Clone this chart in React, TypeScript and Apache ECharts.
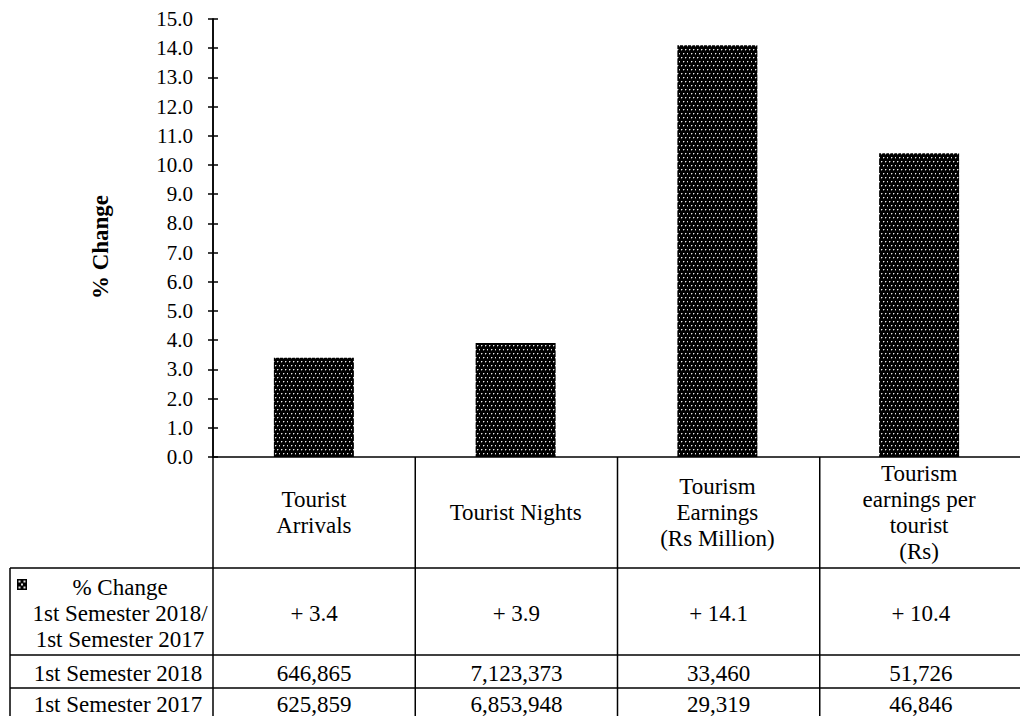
import React, { useEffect, useRef } from "react";
import * as echarts from "echarts";

const categories = [
  "Tourist\nArrivals",
  "Tourist Nights",
  "Tourism\nEarnings\n(Rs Million)",
  "Tourism\nearnings per\ntourist\n(Rs)",
];
const pctChange = [3.4, 3.9, 14.1, 10.4];
const pctLabels = ["+ 3.4", "+ 3.9", "+ 14.1", "+ 10.4"];
const sem2018 = ["646,865", "7,123,373", "33,460", "51,726"];
const sem2017 = ["625,859", "6,853,948", "29,319", "46,846"];
const rowHeaders = ["% Change\n1st Semester 2018/\n1st Semester 2017", "1st Semester 2018", "1st Semester 2017"];
const yAxisName = "% Change";

const FONT = "Liberation Serif";

function makePattern(): HTMLCanvasElement {
  const c = document.createElement("canvas");
  c.width = 8;
  c.height = 8;
  const ctx = c.getContext("2d")!;
  ctx.fillStyle = "#000";
  ctx.fillRect(0, 0, 8, 8);
  const dots = [
    [1, 1],
    [5, 1],
    [3, 5],
    [7, 5],
  ];
  for (const [x, y] of dots) {
    ctx.fillStyle = "#5a5a5a";
    ctx.fillRect(x + 1, y, 1, 1);
    ctx.fillRect(x, y + 1, 1, 1);
    ctx.fillStyle = "#e8e8e8";
    ctx.fillRect(x, y, 1, 1);
  }
  return c;
}

export default function App() {
  const ref = useRef<HTMLDivElement>(null);
  useEffect(() => {
    if (!ref.current) return;
    const chart = echarts.init(ref.current, undefined, { renderer: "svg" });
    const pattern = makePattern();
    const patternFill: any = { image: pattern, repeat: "repeat" };

    const gridLeft = 213;
    const gridTop = 19;
    const gridHeight = 438;
    const gridWidth = 809;
    const band = gridWidth / categories.length;
    const axisY = gridTop + gridHeight;
    const tableLeft = 10;
    const tableRight = 1022;
    const rowLines = [568, 655, 688];
    const bottom = 720;
    const lineStyle = { stroke: "#000", lineWidth: 1.5 };

    const graphics: any[] = [];
    for (let i = 0; i <= categories.length; i++) {
      const x = gridLeft + band * i;
      graphics.push({
        type: "line",
        shape: { x1: x, y1: axisY, x2: x, y2: bottom },
        style: lineStyle,
        silent: true,
      });
    }
    graphics.push({
      type: "line",
      shape: { x1: tableLeft, y1: rowLines[0], x2: tableLeft, y2: bottom },
      style: lineStyle,
      silent: true,
    });
    for (const y of rowLines) {
      graphics.push({
        type: "line",
        shape: { x1: tableLeft, y1: y, x2: tableRight, y2: y },
        style: lineStyle,
        silent: true,
      });
    }
    const rowCenters = [613, 673, 704];
    const textBase = {
      fill: "#000",
      fontFamily: FONT,
      fontSize: 23,
      lineHeight: 26,
      align: "center",
      verticalAlign: "middle",
    };
    rowHeaders.forEach((t, r) => {
      graphics.push({
        type: "text",
        x: r === 0 ? 120 : 118,
        y: rowCenters[r],
        style: { ...textBase, text: t },
        silent: true,
      });
    });
    const rows = [pctLabels, sem2018, sem2017];
    rows.forEach((row, r) => {
      row.forEach((t, i) => {
        graphics.push({
          type: "text",
          x: gridLeft + band * (i + 0.5),
          y: rowCenters[r],
          style: { ...textBase, text: t },
          silent: true,
        });
      });
    });
    // legend marker
    const mx = 17;
    const my = 579;
    graphics.push({
      type: "rect",
      shape: { x: mx, y: my, width: 10, height: 11 },
      style: { fill: "#000" },
      silent: true,
    });
    const markerDots = [
      [1.5, 1.5],
      [6.5, 1.5],
      [4, 4.5],
      [1.5, 7.5],
      [6.5, 7.5],
    ];
    for (const [dx, dy] of markerDots) {
      graphics.push({
        type: "rect",
        shape: { x: mx + dx, y: my + dy, width: 2, height: 2 },
        style: { fill: "#e0e0e0" },
        silent: true,
      });
    }
    graphics.push({
      type: "text",
      x: 100,
      y: 247,
      rotation: Math.PI / 2,
      style: {
        text: yAxisName,
        fill: "#000",
        fontFamily: FONT,
        fontSize: 23,
        fontWeight: "bold",
        align: "center",
        verticalAlign: "middle",
      },
      silent: true,
    });

    chart.setOption({
      animation: false,
      textStyle: { fontFamily: FONT, color: "#000" },
      grid: { left: gridLeft, top: gridTop, width: gridWidth, height: gridHeight, containLabel: false },
      xAxis: {
        type: "category",
        data: categories,
        axisLine: { show: true, lineStyle: { color: "#000", width: 1.5 } },
        axisTick: { show: false },
        axisLabel: {
          interval: 0,
          margin: 55,
          verticalAlign: "middle",
          align: "center",
          fontFamily: FONT,
          fontSize: 23,
          lineHeight: 26,
          color: "#000",
        },
      },
      yAxis: [
        {
          type: "value",
          min: 0,
          max: 15,
          interval: 1,
          axisLine: { show: true, lineStyle: { color: "#000", width: 1.5 } },
          axisTick: { show: true, inside: false, length: 5, lineStyle: { color: "#000", width: 1.5 } },
          axisLabel: {
            margin: 20,
            fontFamily: FONT,
            fontSize: 21,
            color: "#000",
            formatter: (v: number) => v.toFixed(1),
          },
          splitLine: { show: false },
        },
        {
          type: "value",
          position: "left",
          offset: 0,
          min: 0,
          max: 15,
          interval: 1,
          axisLine: { show: true, lineStyle: { color: "#000", width: 1.5 } },
          axisTick: { show: true, inside: true, length: 5, lineStyle: { color: "#000", width: 1.5 } },
          axisLabel: { show: false },
          splitLine: { show: false },
        },
      ],
      series: [
        {
          type: "bar",
          yAxisIndex: 0,
          data: pctChange,
          barWidth: 80,
          itemStyle: { color: patternFill },
        },
      ],
      graphic: graphics,
    });
    return () => chart.dispose();
  }, []);
  return (
    <div
      ref={ref}
      style={{ position: "absolute", left: 0, top: 0, width: 1020, height: 716, background: "#fff" }}
    />
  );
}
